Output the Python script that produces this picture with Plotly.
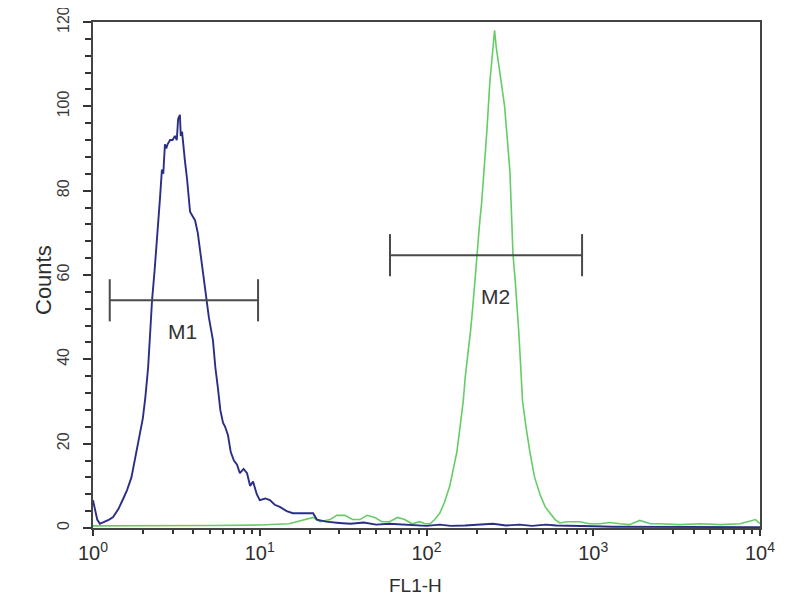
import math
import plotly.graph_objects as go

# ---- data ----
blue_x = [1.0, 1.03, 1.06, 1.10, 1.18, 1.25, 1.32, 1.42, 1.52, 1.60, 1.70, 1.78, 1.84, 1.92, 1.99,
          2.06, 2.14, 2.20, 2.26, 2.34, 2.42, 2.52, 2.59, 2.64, 2.70, 2.75, 2.80, 2.90, 3.00, 3.10,
          3.18, 3.24, 3.32, 3.36, 3.42, 3.47, 3.56, 3.66, 3.75, 3.82, 3.95, 4.09, 4.25, 4.38, 4.53,
          4.69, 4.95, 5.24, 5.42, 5.62, 5.80, 6.02, 6.20, 6.45, 6.70, 7.00, 7.31, 7.60, 8.00, 8.39,
          8.75, 9.12, 9.60, 10.0, 10.8, 11.5, 12.3, 13.2, 14.5, 15.8, 18, 20.9, 22, 25, 30, 35, 42,
          50, 60, 70, 85, 100, 120, 140, 170, 200, 250, 300, 360, 430, 520, 600, 700, 850, 1000,
          1300, 1700, 2200, 3000, 4000, 6000, 10000]
blue_y = [6.6, 4, 2, 1, 1.5, 2, 2.6, 4.5, 7, 9, 12, 16, 18.5, 22, 26,
          31, 38, 46, 54, 61, 68, 78, 85, 84, 91, 90, 91, 92, 92, 93,
          92, 97, 98, 93, 94, 91, 87, 83, 78, 75, 74, 73, 70, 66, 61,
          56, 50, 44.5, 38, 33, 28, 25, 24, 22, 18, 16, 15, 13, 14, 13,
          10, 11, 8, 6.6, 7, 6.6, 5.5, 5, 4, 3.5, 3.5, 3.5, 2, 1.5, 1.2, 1, 1.3,
          0.8, 1, 0.8, 0.6, 0.5, 0.8, 0.5, 0.6, 0.8, 1, 0.6, 0.8, 0.5, 0.8, 0.6, 0.5, 0.5, 0.4,
          0.3, 0.3, 0.3, 0.3, 0.2, 0.2, 0.2]

green_x = [1, 2, 5, 10, 15, 20.9, 23, 26.4, 29, 32.4, 36, 39.9, 44, 49, 54, 60, 67, 74, 82, 91,
           98, 105, 112, 120, 128, 138, 145, 152, 159, 166, 171, 177, 184, 190, 195, 200, 205, 209,
           214, 218, 224, 230, 235, 240, 248, 256, 262, 267, 280, 294, 305, 316, 321, 325, 330, 340,
           350, 357, 364, 370, 377, 395, 417, 445, 479, 515, 554, 590, 630, 700, 830, 950, 1100,
           1250, 1450, 1650, 1900, 2200, 2500, 3300, 4400, 5800, 7600, 9400, 10000]
green_y = [0.5, 0.5, 0.6, 0.7, 1, 2.5, 1.5, 2, 3, 3, 2, 2, 3, 2.5, 1.5, 1.5, 2.5, 2, 1, 1.5,
           1, 1, 2, 3.5, 6, 10, 14, 18, 24, 30, 36, 41, 47, 53, 59, 65, 69, 73,
           77, 81, 88, 94, 100, 106, 112, 118, 114, 112, 106, 100, 92, 85, 78, 73, 65, 59,
           53, 47, 41, 35, 30, 24, 18, 12, 8, 5, 3.5, 2, 1.2, 1.5, 1.5, 1, 1,
           1.3, 1, 0.8, 1.8, 1, 1, 0.8, 1, 0.8, 1, 2, 1]

# marker gates: [start, end], level (counts), label position (FL1-H value, counts)
gate_labels = ["M1", "M2"]
gate_ranges = [[1.26, 9.77], [60.4, 857]]
gate_levels = [54, 64.7]
gate_label_x = [3.46, 258]
gate_label_y = [46.5, 55]

x_tickvals = [1, 10, 100, 1000, 10000]
x_ticktext = ["10<sup>0</sup>", "10<sup>1</sup>", "10<sup>2</sup>", "10<sup>3</sup>", "10<sup>4</sup>"]
x_minor = [m * 10 ** d for d in range(4) for m in range(2, 10)]
y_tickvals = [0, 20, 40, 60, 80, 100, 120]

x_title = "FL1-H"
y_title = "Counts"

cap = 5  # half-height of gate end caps (counts)
FONT = "Liberation Sans"
TXT = "#2e2e2e"

fig = go.Figure()
fig.add_trace(go.Scatter(x=green_x, y=green_y, mode="lines",
                         line=dict(color="#66cc66", width=1.6), hoverinfo="skip"))
fig.add_trace(go.Scatter(x=blue_x, y=blue_y, mode="lines",
                         line=dict(color="#2a2f86", width=1.9), hoverinfo="skip"))

for rng, lvl, lab, lx, ly in zip(gate_ranges, gate_levels, gate_labels, gate_label_x, gate_label_y):
    fig.add_trace(go.Scatter(
        x=[rng[0], rng[1], None, rng[0], rng[0], None, rng[1], rng[1]],
        y=[lvl, lvl, None, lvl - cap, lvl + cap, None, lvl - cap, lvl + cap],
        mode="lines", line=dict(color="#4a4a4a", width=2), hoverinfo="skip"))
    fig.add_annotation(x=math.log10(lx), y=ly, text=lab, showarrow=False,
                       font=dict(family=FONT, size=21, color="#333"),
                       xanchor="center", yanchor="middle")

# axis titles as annotations (placed relative to the plot area)
fig.add_annotation(xref="paper", yref="paper", x=0, y=0.5, xshift=-50, yshift=-5,
                   text=y_title, textangle=-90, showarrow=False,
                   font=dict(family=FONT, size=22, color=TXT),
                   xanchor="center", yanchor="middle")
fig.add_annotation(xref="paper", yref="paper", x=0.484, y=0, yshift=-57,
                   text=x_title, showarrow=False,
                   font=dict(family=FONT, size=19, color=TXT),
                   xanchor="center", yanchor="middle")

fig.update_layout(
    width=800, height=600,
    margin=dict(l=85, r=48, t=14, b=80),
    paper_bgcolor="white", plot_bgcolor="white",
    showlegend=False,
    font=dict(family=FONT, color=TXT, size=15),
    xaxis=dict(type="log", range=[0, 4], tickvals=x_tickvals, ticktext=x_ticktext,
               automargin=False,
               ticks="outside", ticklen=6, tickwidth=2, tickcolor="#333",
               showline=True, linecolor="#444", linewidth=2, mirror=True,
               showgrid=False, zeroline=False,
               tickfont=dict(size=20, color=TXT),
               minor=dict(tickvals=x_minor, ticks="outside", ticklen=4, tickwidth=1.5,
                          tickcolor="#333", showgrid=False)),
    yaxis=dict(range=[0, 120], tickvals=y_tickvals, tickangle=-90,
               automargin=False, ticklabelstandoff=8, ticklabeloverflow="allow",
               ticks="outside", ticklen=8, tickwidth=2, tickcolor="#333",
               showline=True, linecolor="#444", linewidth=2, mirror=True,
               showgrid=False, zeroline=False,
               tickfont=dict(size=16, color="#3a3a3a"),
               minor=dict(dtick=4, ticks="outside", ticklen=6, tickwidth=1.5,
                          tickcolor="#333", showgrid=False)),
)

fig.write_html("out.html")
